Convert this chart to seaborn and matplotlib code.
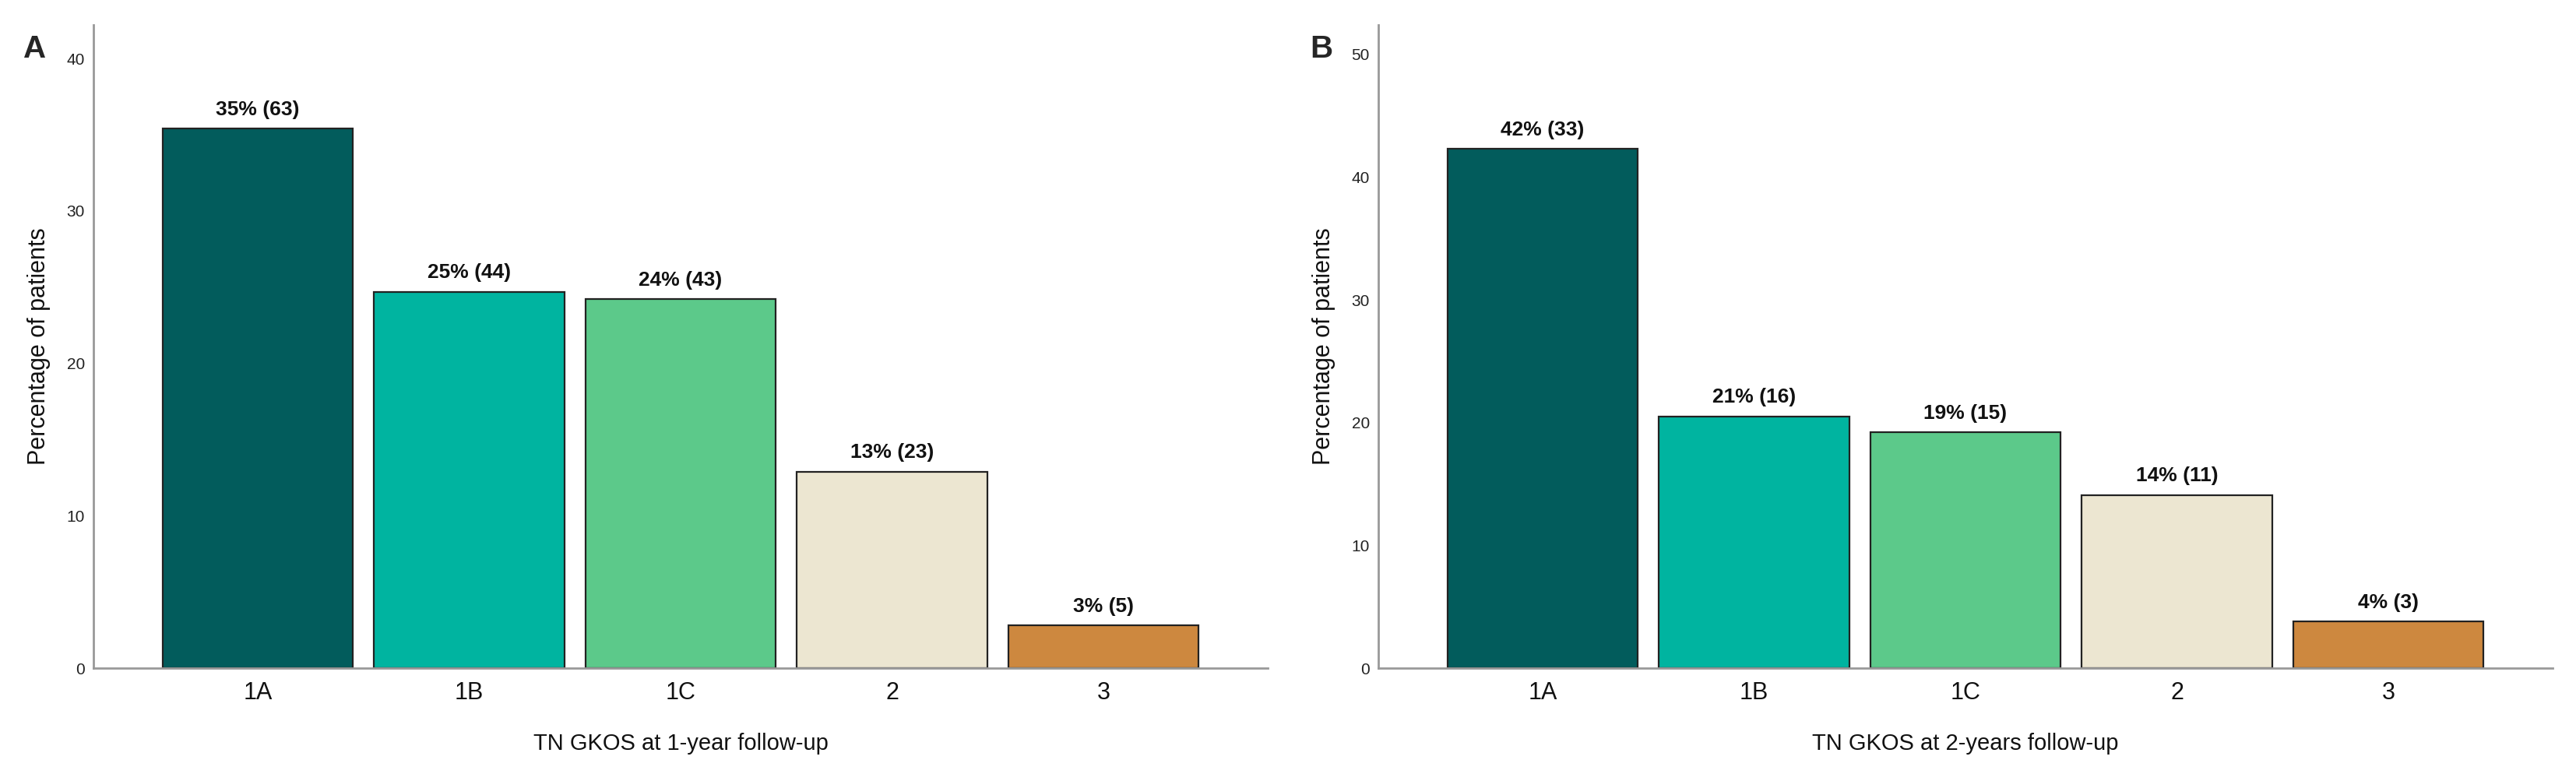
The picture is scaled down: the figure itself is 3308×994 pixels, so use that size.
import matplotlib
matplotlib.use('Agg')
import matplotlib.pyplot as plt
import seaborn as sns
import pandas as pd

# Dados
grades = ['1A', '1B', '1C', '2', '3']
counts_1yr = [63, 44, 43, 23, 5]
pct_1yr = [35.4, 24.7, 24.2, 12.9, 2.8]
counts_2yr = [33, 16, 15, 11, 3]
pct_2yr = [42.3, 20.5, 19.2, 14.1, 3.8]
colors = ['#025C5C', '#00B4A0', '#5CC98A', '#ECE6D1', '#CD883F']

sns.set_style('white')
plt.rcParams['font.family'] = ['Liberation Sans', 'DejaVu Sans']

fig = plt.figure(figsize=(33.08, 9.94), dpi=100)
ax_a = fig.add_axes([120 / 3308, 136 / 994, 1508 / 3308, 826 / 994])
ax_b = fig.add_axes([1770 / 3308, 136 / 994, 1508 / 3308, 826 / 994])

panels = [
    (ax_a, pct_1yr, counts_1yr, 'TN GKOS at 1-year follow-up', 42.2, [0, 10, 20, 30, 40]),
    (ax_b, pct_2yr, counts_2yr, 'TN GKOS at 2-years follow-up', 52.4, [0, 10, 20, 30, 40, 50]),
]

for ax, pct, counts, xlabel, ymax, yticks in panels:
    df = pd.DataFrame({'grade': grades, 'pct': pct, 'n': counts})
    sns.barplot(data=df, x='grade', y='pct', hue='grade', palette=dict(zip(grades, colors)),
                saturation=1, width=0.9, edgecolor='#222222', linewidth=1.6, legend=False, ax=ax)
    for bar, p, n in zip(ax.patches, pct, counts):
        ax.annotate(f'{int(p + 0.5)}% ({n})', (bar.get_x() + bar.get_width() / 2, bar.get_height()),
                    xytext=(0, 9), textcoords='offset points', ha='center', va='bottom',
                    fontsize=19, fontweight='bold', color='#111111')
    ax.set_xlim(-0.777, 4.777)
    ax.set_ylim(0, ymax)
    ax.set_yticks(yticks)
    ax.tick_params(axis='y', length=0, pad=8, labelsize=15, labelcolor='#222222')
    ax.tick_params(axis='x', length=0, pad=12, labelsize=22, labelcolor='#111111')
    ax.set_xlabel(xlabel, fontsize=21, labelpad=26, color='#111111')
    ax.set_ylabel('Percentage of patients', fontsize=22, labelpad=15, color='#111111')
    sns.despine(ax=ax)
    for s in ['left', 'bottom']:
        ax.spines[s].set_color('#999999')
        ax.spines[s].set_linewidth(2)

fig.text(30 / 3308, 1 - 74 / 994, 'A', fontsize=29, fontweight='bold')
fig.text(1682 / 3308, 1 - 74 / 994, 'B', fontsize=29, fontweight='bold')

fig.savefig('out.png', dpi=100, facecolor='white')
